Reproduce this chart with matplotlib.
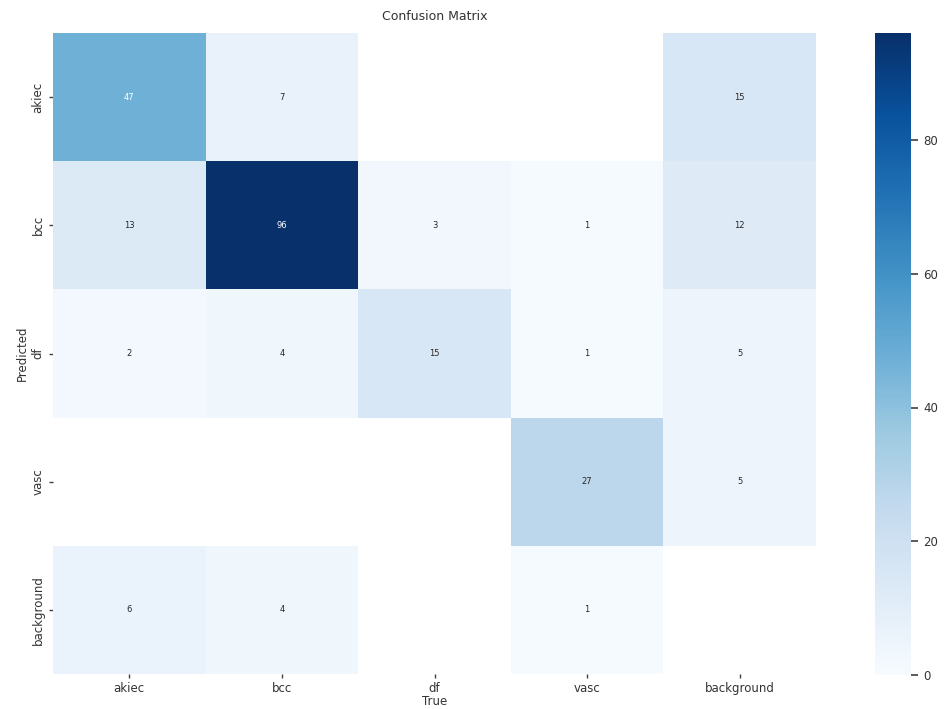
#!/usr/bin/env python3
"""Confusion matrix heatmap for the skin lesion detector."""
import numpy as np
import matplotlib
matplotlib.use("Agg")
import matplotlib.pyplot as plt
import seaborn as sns

CLASSES = ["akiec", "bcc", "df", "vasc", "background"]

# rows = predicted, columns = true; None means no detections (left blank)
ROW_AKIEC = [47, 7, None, None, 15]
ROW_BCC = [13, 96, 3, 1, 12]
ROW_DF = [2, 4, 15, 1, 5]
ROW_VASC = [None, None, None, 27, 5]
ROW_BACKGROUND = [6, 4, None, 1, None]

CBAR_TICKS = [0, 20, 40, 60, 80]

sns.set_theme(style="darkgrid", font_scale=1.0)
plt.rcParams["font.family"] = ["DejaVu Sans"]

matrix = np.array(
    [ROW_AKIEC, ROW_BCC, ROW_DF, ROW_VASC, ROW_BACKGROUND], dtype=float
)

fig = plt.figure(figsize=(9.45, 7.09), dpi=100)
ax = fig.add_axes([53 / 945, 1 - 674 / 709, 763 / 945, 641 / 709])
cax = fig.add_axes([875 / 945, 1 - 675 / 709, 36 / 945, 642 / 709])

sns.heatmap(
    matrix,
    ax=ax,
    cbar_ax=cax,
    annot=True,
    annot_kws={"size": 6},
    fmt=".0f",
    cmap="Blues",
    vmin=0.0,
    xticklabels=CLASSES,
    yticklabels=CLASSES,
)
ax.set_facecolor((1, 1, 1))
ax.tick_params(axis="both", bottom=True, left=True, length=3, width=1,
               color="0.25", labelsize=8.5, labelcolor="0.2", pad=3)
ax.tick_params(axis="x", rotation=0)
ax.tick_params(axis="y", rotation=90)
for lbl in ax.get_yticklabels():
    lbl.set_va("center")

ax.set_xlabel("True", fontsize=8.5, color="0.2", labelpad=0)
ax.set_ylabel("Predicted", fontsize=8.5, color="0.2", labelpad=2)
ax.set_title("Confusion Matrix", fontsize=9, color="0.2", pad=9)

cax.set_yticks(CBAR_TICKS)
cax.yaxis.set_ticks_position("right")
cax.tick_params(axis="y", right=True, length=5, width=1.2, color="0.25",
                labelsize=8.5, labelcolor="0.2", pad=4)

fig.savefig("out.png", dpi=100)
plt.close(fig)
